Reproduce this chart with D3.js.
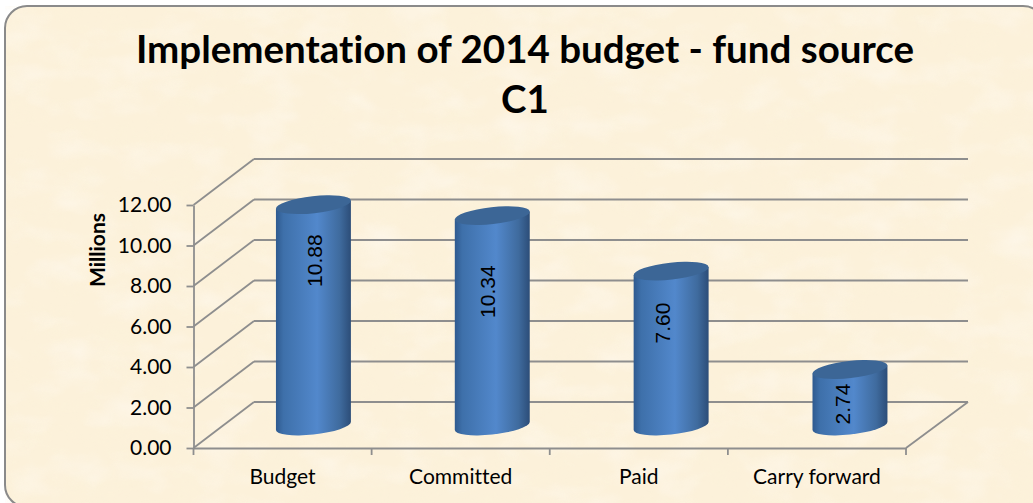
<!doctype html>
<html>
  <head>
    <meta charset="utf-8">
    <title>Implementation of 2014 budget</title>
    <script src="https://cdnjs.cloudflare.com/ajax/libs/d3/7.8.5/d3.min.js"></script>
    <style>
      html, body { margin: 0; padding: 0; background: #fff; }
      svg { display: block; }
      text { font-family: Lato, "Open Sans", sans-serif; fill: #000; font-variant-ligatures: none; }
    </style>
  </head>
  <body>
    <div id="chart"></div>
    <script>
    // data
    let categories = ["Budget", "Committed", "Paid", "Carry forward"];
    let values = [10.88, 10.34, 7.60, 2.74];
    let yTicks = [0, 2, 4, 6, 8, 10, 12];
    let titleLines = ["Implementation of 2014 budget - fund source", "C1"];

    let width = 1033, height = 503;

    // front plane of the 3d box, the back wall is shifted by depthX / depthY
    let left = 193.5, right = 906, bottom = 448, top12 = 205;
    let depthX = 60.5, depthY = -46;
    let backRight = 968;
    let gridColor = "#8e8e8e";

    let y = d3.scaleLinear().domain([0, 12]).range([bottom, top12]);
    let x = d3.scaleBand().domain(categories).range([left, right]).padding(0);
    // cylinders stand mid way into the box
    let xBar = d3.scaleBand().domain(categories).range([224, 939.4]).padding(0);

    // the value labels sit off centre in the original, offset from the cylinder
    let labelNudgeX = [2, -4.5, -8, -7];
    let labelNudgeY = [33, 53, 29, 11.5];

    let svg = d3.select("#chart").append("svg")
      .attr("width", width)
      .attr("height", height);

    let defs = svg.append("defs");

    // parchment texture, one blotch layer per colour
    function blotches(id, seed, freq, rgb, gain, cut) {
      let f = defs.append("filter").attr("id", id)
        .attr("x", 0).attr("y", 0).attr("width", "100%").attr("height", "100%");
      f.append("feTurbulence")
        .attr("type", "fractalNoise")
        .attr("baseFrequency", freq)
        .attr("numOctaves", 3)
        .attr("seed", seed);
      f.append("feColorMatrix")
        .attr("type", "matrix")
        .attr("values", `0 0 0 0 ${rgb[0]}  0 0 0 0 ${rgb[1]}  0 0 0 0 ${rgb[2]}  ${gain} 0 0 0 ${cut}`);
    }
    blotches("paperDark", 7, "0.03 0.04", [0.97, 0.89, 0.70], 2.0, -0.85);
    blotches("paperLight", 23, "0.02 0.035", [1, 0.97, 0.93], 2.0, -0.9);

    let grad = defs.append("linearGradient").attr("id", "body")
      .attr("x1", 0).attr("x2", 1).attr("y1", 0).attr("y2", 0);
    [[0, "#2f5a8f"], [0.1, "#3e70aa"], [0.55, "#5288cc"], [0.85, "#3f6b9e"], [1, "#2c4d78"]].forEach(s => {
      grad.append("stop").attr("offset", s[0]).attr("stop-color", s[1]);
    });

    // panel, it runs off the right and bottom of the picture
    let panel = { x: 5, y: 6, width: 1040, height: 501, rx: 22 };
    function panelRect() {
      return svg.append("rect")
        .attr("x", panel.x).attr("y", panel.y)
        .attr("width", panel.width).attr("height", panel.height)
        .attr("rx", panel.rx);
    }
    panelRect().style("fill", "#fcf1da");
    panelRect().attr("filter", "url(#paperDark)").attr("opacity", 0.5);
    panelRect().attr("filter", "url(#paperLight)").attr("opacity", 0.45);
    panelRect()
      .style("fill", "none")
      .style("stroke", "#8a8a8a")
      .style("stroke-width", 2);

    // title
    svg.append("g").selectAll("text")
      .data(titleLines)
      .join("text")
      .attr("x", 525)
      .attr("y", (d, i) => 63 + i * 50)
      .attr("text-anchor", "middle")
      .style("font-size", "38.5px")
      .style("font-weight", "bold")
      .text(d => d);

    // back wall lines
    svg.append("g").selectAll("line")
      .data(yTicks)
      .join("line")
      .attr("x1", left + depthX)
      .attr("x2", backRight)
      .attr("y1", d => y(d) + depthY)
      .attr("y2", d => y(d) + depthY)
      .style("stroke", gridColor).style("stroke-width", 1.8);

    // side wall lines
    svg.append("g").selectAll("line")
      .data(yTicks)
      .join("line")
      .attr("x1", left)
      .attr("x2", left + depthX)
      .attr("y1", d => y(d))
      .attr("y2", d => y(d) + depthY)
      .style("stroke", gridColor).style("stroke-width", 1.8);

    // right edge of the floor
    svg.append("line")
      .attr("x1", right).attr("x2", backRight)
      .attr("y1", y(0)).attr("y2", y(0) + depthY)
      .style("stroke", gridColor).style("stroke-width", 1.8);

    // axes
    let yAxis = svg.append("g")
      .attr("transform", `translate(${left},0)`)
      .call(d3.axisLeft(y).tickValues(yTicks).tickFormat(d3.format(".2f")).tickSize(7).tickSizeOuter(0).tickPadding(15));
    let xAxis = svg.append("g")
      .attr("transform", `translate(0,${bottom})`)
      .call(d3.axisBottom(x).tickSize(0).tickPadding(21));
    [yAxis, xAxis].forEach(a => {
      a.attr("font-family", null).attr("font-size", null);
      a.selectAll("path,line").style("stroke", gridColor).style("stroke-width", 1.8);
      a.selectAll("text").style("font-size", "21px");
    });

    // ticks between the categories
    svg.append("g").selectAll("line")
      .data(d3.range(categories.length + 1))
      .join("line")
      .attr("x1", i => left + i * x.step())
      .attr("x2", i => left + i * x.step())
      .attr("y1", bottom)
      .attr("y2", bottom + 7)
      .style("stroke", gridColor).style("stroke-width", 1.8);

    svg.append("text")
      .attr("transform", "translate(105,250) rotate(-90)")
      .attr("text-anchor", "middle")
      .style("font-size", "21px")
      .style("font-weight", "bold")
      .text("Millions");

    // cylinders
    let a = 37.7, b = 8.5, tilt = -6.4;
    let th = tilt * Math.PI / 180;
    let t0 = Math.atan(-(b / a) * Math.tan(th));
    let tx = a * Math.cos(t0) * Math.cos(th) - b * Math.sin(t0) * Math.sin(th);
    let ty = a * Math.cos(t0) * Math.sin(th) + b * Math.sin(t0) * Math.cos(th);
    let cx = d => xBar(d) + xBar.bandwidth() / 2;
    let baseY = y(0) + depthY / 2 + 1;
    let topY = v => y(v) + depthY / 2;

    let bars = svg.append("g").selectAll("g")
      .data(categories)
      .join("g");

    bars.append("path")
      .attr("d", (d, i) => {
        let c = cx(d), t = topY(values[i]);
        return `M${c + tx},${t + ty}` +
          `L${c + tx},${baseY + ty}` +
          `A${a},${b} ${tilt} 0 1 ${c - tx},${baseY - ty}` +
          `L${c - tx},${t - ty}Z`;
      })
      .style("fill", "url(#body)");

    bars.append("ellipse")
      .attr("rx", a).attr("ry", b)
      .attr("transform", (d, i) => `translate(${cx(d)},${topY(values[i])}) rotate(${tilt})`)
      .style("fill", "#3c6696");

    bars.append("text")
      .attr("transform", (d, i) => `translate(${cx(d) + labelNudgeX[i] + 7},${y(values[i]) + labelNudgeY[i]}) rotate(-90)`)
      .attr("text-anchor", "middle")
      .style("font-family", '"Liberation Sans", Arial, sans-serif')
      .style("font-size", "21px")
      .text((d, i) => values[i].toFixed(2));
    </script>
  </body>
</html>
